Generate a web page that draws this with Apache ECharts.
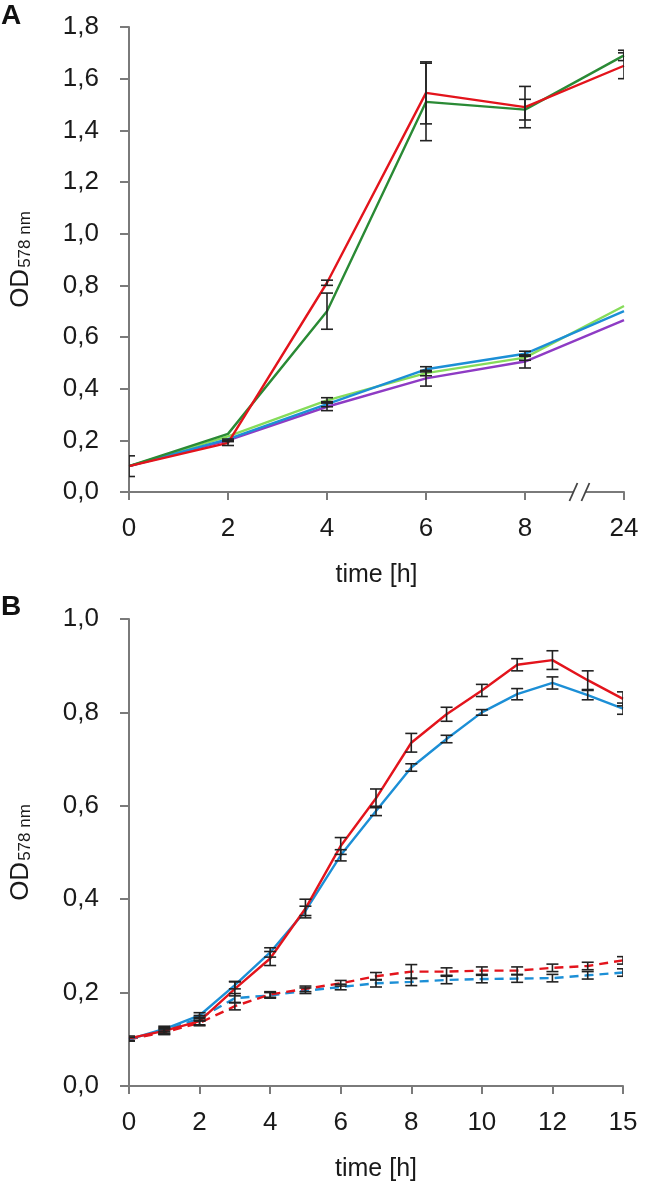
<!DOCTYPE html>
<html>
<head>
<meta charset="utf-8">
<script src="https://cdn.jsdelivr.net/npm/echarts@6/dist/echarts.min.js"></script>
<style>
html, body { margin: 0; padding: 0; background: #fff; }
#chart { width: 650px; height: 1187px; }
</style>
</head>
<body>
<div id="chart"></div>
<script>
// Panel A: growth up to 24 h
var timeA = ['0', '2', '4', '6', '8', '24'];
var redA = [0.10, 0.19, 0.81, 1.545, 1.49, 1.65];
var dkGreenA = [0.10, 0.225, 0.70, 1.51, 1.48, 1.69];
var ltGreenA = [0.10, 0.215, 0.355, 0.46, 0.52, 0.72];
var blueA = [0.10, 0.205, 0.34, 0.475, 0.535, 0.70];
var purpleA = [0.10, 0.20, 0.33, 0.44, 0.505, 0.665];
var errRedA = [0.04, 0.01, 0.01, 0.12, 0.08, 0.05];
var errDkGreenA = [0, 0, 0.07, 0.15, 0.04, 0.02];
var errLtGreenA = [0, 0, 0.01, 0.01, 0.01, 0];
var errBlueA = [0, 0, 0.01, 0.01, 0.01, 0];
var errPurpleA = [0, 0.005, 0.015, 0.03, 0.025, 0];

// Panel B: 0-15 h
var timeB = ['0', '1', '2', '3', '4', '5', '6', '7', '8', '9', '10', '11', '12', '13', '15'];
var redB = [0.102, 0.118, 0.139, 0.208, 0.273, 0.38, 0.514, 0.616, 0.735, 0.796, 0.847, 0.902, 0.912, 0.869, 0.829];
var blueB = [0.10, 0.122, 0.151, 0.216, 0.286, 0.375, 0.494, 0.589, 0.682, 0.743, 0.80, 0.839, 0.863, 0.837, 0.808];
var redDashB = [0.10, 0.115, 0.135, 0.171, 0.196, 0.208, 0.22, 0.235, 0.245, 0.245, 0.247, 0.247, 0.253, 0.257, 0.269];
var blueDashB = [0.10, 0.118, 0.145, 0.188, 0.194, 0.204, 0.212, 0.22, 0.223, 0.227, 0.229, 0.23, 0.231, 0.237, 0.243];
var errRedB = [0.005, 0.007, 0.008, 0.015, 0.015, 0.02, 0.018, 0.02, 0.02, 0.015, 0.013, 0.013, 0.02, 0.02, 0.015];
var errBlueB = [0.004, 0.006, 0.006, 0.008, 0.01, 0.01, 0.012, 0.01, 0.008, 0.008, 0.006, 0.012, 0.013, 0.01, 0.012];
var errRedDashB = [0, 0.005, 0.006, 0.008, 0.006, 0.006, 0.006, 0.008, 0.015, 0.008, 0.008, 0.008, 0.008, 0.008, 0.008];
var errBlueDashB = [0, 0.005, 0.006, 0.01, 0.006, 0.006, 0.006, 0.008, 0.008, 0.008, 0.008, 0.008, 0.008, 0.008, 0.008];

var FONT = '"Liberation Sans", Arial, sans-serif';
var AXIS_COLOR = '#7a7a7a';

function comma(v) { return v.toFixed(1).replace('.', ','); }

function lineSeries(name, g, data, color, dashed) {
    return {
        name: name, type: 'line', xAxisIndex: g, yAxisIndex: g,
        data: data, showSymbol: false, symbol: 'none',
        lineStyle: { color: color, width: 2.4, type: dashed ? [9, 6] : 'solid' },
        z: 3
    };
}

function errorBars(g, values, errs) {
    var data = [];
    for (var i = 0; i < values.length; i++) {
        if (errs[i] > 0) data.push([i, values[i] - errs[i], values[i] + errs[i]]);
    }
    return {
        type: 'custom', xAxisIndex: g, yAxisIndex: g, clip: true, z: 4,
        encode: { x: 0, y: [1, 2] },
        data: data,
        renderItem: function (params, api) {
            var lo = api.coord([api.value(0), api.value(1)]);
            var hi = api.coord([api.value(0), api.value(2)]);
            var w = 6;
            var st = { stroke: '#222', lineWidth: 1.6 };
            return {
                type: 'group',
                children: [
                    { type: 'line', shape: { x1: lo[0], y1: lo[1], x2: hi[0], y2: hi[1] }, style: st },
                    { type: 'line', shape: { x1: lo[0] - w, y1: lo[1], x2: lo[0] + w, y2: lo[1] }, style: st },
                    { type: 'line', shape: { x1: hi[0] - w, y1: hi[1], x2: hi[0] + w, y2: hi[1] }, style: st }
                ]
            };
        }
    };
}

function xAxisOf(g, cats) {
    return {
        type: 'category', gridIndex: g, data: cats, boundaryGap: false,
        name: 'time [h]', nameLocation: 'middle', nameGap: 71,
        nameTextStyle: { fontFamily: FONT, fontSize: 25, color: '#1a1a1a' },
        axisLine: { lineStyle: { color: AXIS_COLOR, width: 2 } },
        axisTick: { show: true, length: 8, interval: g === 1 ? 1 : 0, lineStyle: { color: AXIS_COLOR, width: 2 } },
        axisLabel: { interval: g === 1 ? 1 : 0, margin: 24, fontFamily: FONT, fontSize: 26, color: '#1a1a1a' },
        splitLine: { show: false }
    };
}

function yAxisOf(g, max) {
    return {
        type: 'value', gridIndex: g, min: 0, max: max, interval: 0.2,
        name: '{a|OD}{b|578 nm}', nameLocation: 'middle', nameRotate: 90, nameGap: 95,
        nameTextStyle: {
            fontFamily: FONT, color: '#1a1a1a',
            rich: {
                a: { fontFamily: FONT, fontSize: 26, color: '#1a1a1a', verticalAlign: 'bottom' },
                b: { fontFamily: FONT, fontSize: 17, color: '#1a1a1a', verticalAlign: 'bottom', padding: [0, 0, 0, 1] }
            }
        },
        axisLine: { show: true, lineStyle: { color: AXIS_COLOR, width: 2 } },
        axisTick: { show: true, length: 9, lineStyle: { color: AXIS_COLOR, width: 2 } },
        axisLabel: { margin: 30, fontFamily: FONT, fontSize: 26, color: '#1a1a1a', formatter: comma },
        splitLine: { show: false }
    };
}

var chart = echarts.init(document.getElementById('chart'));

var option = {
    backgroundColor: '#ffffff',
    animation: false,
    grid: [
        { left: 124, right: 26, top: 27, height: 465 },
        { left: 124, right: 27, top: 619, height: 467 }
    ],
    xAxis: [xAxisOf(0, timeA), xAxisOf(1, timeB)],
    yAxis: [yAxisOf(0, 1.8), yAxisOf(1, 1.0)],
    series: [
        lineSeries('light green', 0, ltGreenA, '#86dc5a'),
        lineSeries('purple', 0, purpleA, '#8e3bc4'),
        lineSeries('blue', 0, blueA, '#1c8fd6'),
        lineSeries('dark green', 0, dkGreenA, '#2a8a35'),
        lineSeries('red', 0, redA, '#e3141c'),
        errorBars(0, redA, errRedA),
        errorBars(0, dkGreenA, errDkGreenA),
        errorBars(0, ltGreenA, errLtGreenA),
        errorBars(0, blueA, errBlueA),
        errorBars(0, purpleA, errPurpleA),

        lineSeries('blue dashed', 1, blueDashB, '#1c8fd6', true),
        lineSeries('red dashed', 1, redDashB, '#e3141c', true),
        lineSeries('blue', 1, blueB, '#1c8fd6'),
        lineSeries('red', 1, redB, '#e3141c'),
        errorBars(1, redB, errRedB),
        errorBars(1, blueB, errBlueB),
        errorBars(1, redDashB, errRedDashB),
        errorBars(1, blueDashB, errBlueDashB)
    ]
};

chart.setOption(option);

// axis break "//" between 8 h and 24 h in panel A, placed from the axis scale
var p8 = chart.convertToPixel({ gridIndex: 0 }, [4, 0]);
var p24 = chart.convertToPixel({ gridIndex: 0 }, [5, 0]);
var bx = p8[0] + 0.55 * (p24[0] - p8[0]);
var by = p8[1];
chart.setOption({
    graphic: [
        { type: 'text', left: 1, top: 2, style: { text: 'A', font: 'bold 28px ' + FONT, fill: '#111' } },
        { type: 'text', left: 1, top: 593, style: { text: 'B', font: 'bold 28px ' + FONT, fill: '#111' } },
        { type: 'rect', shape: { x: bx - 6, y: by - 3, width: 12, height: 6 }, style: { fill: '#fff' }, z: 10 },
        { type: 'line', shape: { x1: bx - 10, y1: by + 9, x2: bx - 2, y2: by - 9 }, style: { stroke: '#444', lineWidth: 1.8 }, z: 11 },
        { type: 'line', shape: { x1: bx + 2, y1: by + 9, x2: bx + 10, y2: by - 9 }, style: { stroke: '#444', lineWidth: 1.8 }, z: 11 }
    ]
});
</script>
</body>
</html>
